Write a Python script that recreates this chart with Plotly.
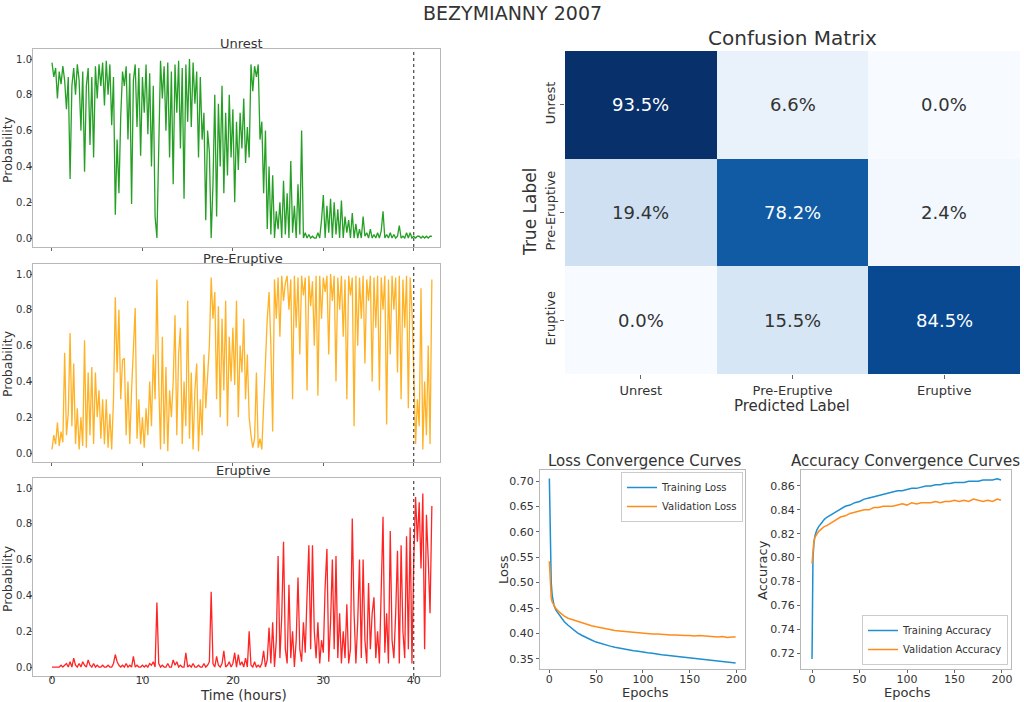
import plotly.graph_objects as go

# time axis of the left panels (hours, one sample every 0.2 h)
hours = [round(i * 0.2, 1) for i in range(211)]

unrest = [
    0.98, 0.90, 0.95, 0.78, 0.93, 0.86, 0.96, 0.88, 0.72, 0.90,
    0.33, 0.85, 0.95, 0.80, 0.97, 0.88, 0.60, 0.93, 0.37, 0.85,
    0.95, 0.52, 0.90, 0.45, 0.96, 0.78, 0.97, 0.85, 0.98, 0.74,
    0.99, 0.80, 0.97, 0.63, 0.90, 0.13, 0.55, 0.25, 0.68, 0.93,
    0.85, 0.96, 0.55, 0.92, 0.19, 0.88, 0.97, 0.62, 0.95, 0.46,
    0.90, 0.70, 0.97, 0.58, 0.92, 0.40, 0.85, 0.12, 0.00, 0.55,
    0.99, 0.78, 0.96, 0.60, 0.98, 0.45, 0.93, 0.30, 0.97, 0.70,
    0.99, 0.50, 0.95, 0.22, 0.97, 0.65, 1.00, 0.62, 0.98, 0.75,
    0.93, 0.45, 0.90, 0.55, 0.70, 0.10, 0.60, 0.48, 0.00, 0.30,
    0.80, 0.12, 0.75, 0.40, 0.85, 0.25, 0.70, 0.35, 0.80, 0.45,
    0.72, 0.20, 0.65, 0.38, 0.70, 0.50, 0.78, 0.42, 0.62, 0.45,
    0.97, 0.82, 0.96, 0.90, 0.97, 0.55, 0.65, 0.25, 0.60, 0.05,
    0.40, 0.02, 0.35, 0.00, 0.15, 0.05, 0.20, 0.00, 0.32, 0.02,
    0.25, 0.00, 0.43, 0.03, 0.18, 0.00, 0.30, 0.02, 0.60, 0.00,
    0.03, 0.00, 0.02, 0.00, 0.01, 0.00, 0.00, 0.03, 0.00, 0.10,
    0.24, 0.00, 0.18, 0.03, 0.22, 0.00, 0.20, 0.02, 0.16, 0.00,
    0.21, 0.00, 0.12, 0.03, 0.10, 0.00, 0.14, 0.00, 0.08, 0.00,
    0.05, 0.00, 0.12, 0.01, 0.03, 0.00, 0.05, 0.00, 0.02, 0.00,
    0.03, 0.00, 0.04, 0.15, 0.00, 0.02, 0.00, 0.03, 0.00, 0.02,
    0.00, 0.01, 0.07, 0.00, 0.01, 0.00, 0.03, 0.00, 0.03, 0.00,
    0.01, 0.00, 0.01, 0.01, 0.00, 0.01, 0.00, 0.01, 0.00, 0.01, 0.01,
]

pre_eruptive = [
    0.02, 0.10, 0.05, 0.17, 0.04, 0.12, 0.06, 0.56, 0.10, 0.22,
    0.67, 0.15, 0.50, 0.05, 0.25, 0.02, 0.20, 0.04, 0.63, 0.03,
    0.45, 0.10, 0.48, 0.05, 0.45, 0.20, 0.35, 0.08, 0.30, 0.05,
    0.30, 0.03, 0.22, 0.02, 0.30, 0.87, 0.45, 0.80, 0.30, 0.52,
    0.53, 0.10, 0.40, 0.05, 0.35, 0.55, 0.81, 0.08, 0.30, 0.05,
    0.20, 0.03, 0.25, 0.10, 0.40, 0.15, 0.55, 0.30, 0.97, 0.40,
    0.02, 0.65, 0.05, 0.48, 0.01, 0.35, 0.20, 0.40, 0.77, 0.10,
    0.55, 0.70, 0.05, 0.40, 0.15, 0.85, 0.08, 0.45, 0.02, 0.35,
    0.50, 0.01, 0.30, 0.10, 0.55, 0.25, 0.40, 0.60, 0.98, 0.75,
    0.90, 0.30, 0.82, 0.20, 0.75, 0.35, 0.85, 0.15, 0.65, 0.40,
    0.70, 0.38, 0.85, 0.20, 0.60, 0.45, 0.75, 0.30, 0.55, 0.20,
    0.10, 0.03, 0.08, 0.45, 0.03, 0.08, 0.02, 0.30, 0.55, 0.75,
    0.90, 0.60, 0.12, 0.97, 0.75, 0.98, 0.65, 0.99, 0.85, 0.95,
    0.99, 0.80, 0.97, 0.30, 0.99, 0.70, 0.98, 0.55, 0.99, 0.88,
    0.98, 0.35, 0.99, 0.82, 0.96, 0.60, 0.99, 0.32, 0.99, 0.75,
    0.98, 0.90, 0.99, 0.55, 1.00, 0.85, 0.99, 0.40, 0.98, 0.80,
    0.99, 0.65, 0.97, 0.30, 0.99, 0.88, 0.98, 0.15, 0.99, 0.60,
    0.98, 0.75, 0.99, 0.50, 0.97, 0.85, 0.99, 0.40, 0.98, 0.70,
    0.99, 0.35, 0.98, 0.80, 0.99, 0.16, 0.97, 0.55, 0.99, 0.80,
    0.98, 0.45, 0.99, 0.30, 0.97, 0.70, 0.99, 0.25, 0.98, 0.80,
    0.45, 0.05, 0.30, 0.15, 0.92, 0.02, 0.40, 0.10, 0.60, 0.05, 0.97,
]

eruptive = [
    0.00, 0.00, 0.00, 0.00, 0.00, 0.01, 0.00, 0.01, 0.02, 0.00,
    0.03, 0.00, 0.05, 0.01, 0.00, 0.02, 0.00, 0.03, 0.01, 0.00,
    0.04, 0.01, 0.00, 0.02, 0.00, 0.01, 0.00, 0.00, 0.01, 0.00,
    0.00, 0.01, 0.00, 0.00, 0.02, 0.07, 0.03, 0.01, 0.00, 0.01,
    0.00, 0.02, 0.00, 0.01, 0.00, 0.06, 0.00, 0.01, 0.00, 0.00,
    0.01, 0.00, 0.01, 0.00, 0.02, 0.01, 0.03, 0.00, 0.36, 0.02,
    0.00, 0.01, 0.00, 0.00, 0.02, 0.00, 0.00, 0.04, 0.01, 0.03,
    0.00, 0.01, 0.00, 0.00, 0.08, 0.00, 0.01, 0.00, 0.02, 0.00,
    0.00, 0.01, 0.00, 0.00, 0.02, 0.00, 0.01, 0.03, 0.42, 0.02,
    0.00, 0.06, 0.01, 0.00, 0.02, 0.09, 0.00, 0.01, 0.03, 0.00,
    0.02, 0.08, 0.00, 0.07, 0.01, 0.03, 0.00, 0.05, 0.00, 0.20,
    0.01, 0.00, 0.03, 0.00, 0.01, 0.00, 0.02, 0.09, 0.00, 0.04,
    0.22, 0.02, 0.25, 0.00, 0.15, 0.62, 0.05, 0.28, 0.70, 0.10,
    0.02, 0.46, 0.05, 0.20, 0.00, 0.15, 0.50, 0.10, 0.03, 0.25,
    0.08, 0.40, 0.68, 0.10, 0.68, 0.20, 0.05, 0.25, 0.02, 0.15,
    0.08, 0.45, 0.66, 0.03, 0.25, 0.60, 0.10, 0.62, 0.05, 0.30,
    0.02, 0.20, 0.05, 0.35, 0.02, 0.10, 0.83, 0.30, 0.02, 0.25,
    0.60, 0.05, 0.60, 0.15, 0.02, 0.47, 0.10, 0.30, 0.39, 0.05,
    0.20, 0.02, 0.45, 0.84, 0.08, 0.30, 0.02, 0.76, 0.15, 0.05,
    0.30, 0.65, 0.02, 0.68, 0.20, 0.05, 0.73, 0.10, 0.78, 0.02,
    0.60, 0.95, 0.70, 0.92, 0.55, 0.97, 0.10, 0.85, 0.60, 0.30, 0.90,
]

classes = ["Unrest", "Pre-Eruptive", "Eruptive"]
cm_values = [[93.5, 6.6, 0.0],
             [19.4, 78.2, 2.4],
             [0.0, 15.5, 84.5]]

epochs = [0, 1, 2, 3, 5, 7, 10, 13, 16, 20, 25, 30, 35, 40, 45, 50, 55, 60, 65, 70,
          75, 80, 85, 90, 95, 100, 105, 110, 115, 120, 125, 130, 135, 140, 145, 150,
          155, 160, 165, 170, 175, 180, 185, 190, 195, 199]
train_loss = [0.705, 0.560, 0.500, 0.475, 0.455, 0.446, 0.438, 0.430, 0.423, 0.416,
              0.408, 0.401, 0.396, 0.391, 0.387, 0.383, 0.380, 0.377, 0.375, 0.373,
              0.371, 0.369, 0.367, 0.366, 0.365, 0.363, 0.362, 0.361, 0.359, 0.358,
              0.357, 0.356, 0.355, 0.354, 0.353, 0.352, 0.351, 0.350, 0.349, 0.348,
              0.347, 0.346, 0.345, 0.344, 0.343, 0.342]
val_loss = [0.542, 0.490, 0.470, 0.462, 0.456, 0.449, 0.443, 0.438, 0.434, 0.430,
            0.427, 0.423, 0.420, 0.417, 0.415, 0.413, 0.411, 0.410, 0.407, 0.406,
            0.405, 0.404, 0.403, 0.402, 0.401, 0.400, 0.400, 0.399, 0.399, 0.398,
            0.398, 0.397, 0.397, 0.396, 0.396, 0.396, 0.395, 0.396, 0.395, 0.394,
            0.394, 0.393, 0.394, 0.392, 0.393, 0.393]
train_acc = [0.715, 0.800, 0.812, 0.818, 0.823, 0.826, 0.829, 0.832, 0.834, 0.836,
             0.838, 0.841, 0.843, 0.844, 0.846, 0.847, 0.849, 0.850, 0.851, 0.852,
             0.853, 0.854, 0.855, 0.856, 0.856, 0.857, 0.858, 0.858, 0.859, 0.860,
             0.860, 0.861, 0.861, 0.862, 0.862, 0.863, 0.863, 0.863, 0.864, 0.864,
             0.864, 0.865, 0.865, 0.865, 0.866, 0.865]
val_acc = [0.795, 0.808, 0.814, 0.817, 0.820, 0.822, 0.824, 0.826, 0.827, 0.829,
           0.832, 0.834, 0.835, 0.837, 0.838, 0.839, 0.840, 0.840, 0.842, 0.842,
           0.843, 0.843, 0.843, 0.844, 0.845, 0.844, 0.846, 0.845, 0.846, 0.846,
           0.846, 0.847, 0.846, 0.847, 0.847, 0.848, 0.847, 0.848, 0.847, 0.849,
           0.848, 0.847, 0.848, 0.847, 0.849, 0.848]

blues = [[0.0, "rgb(247,251,255)"], [0.125, "rgb(222,235,247)"], [0.25, "rgb(198,219,239)"],
         [0.375, "rgb(158,202,225)"], [0.5, "rgb(107,174,214)"], [0.625, "rgb(66,146,198)"],
         [0.75, "rgb(33,113,181)"], [0.875, "rgb(8,81,156)"], [1.0, "rgb(8,48,107)"]]

FONT = "DejaVu Sans"
TXT = "#333333"
BLUE = "#1f8fd0"
ORANGE = "#ff8c1a"

W, H = 1024, 702


def px(x):
    return x / W


def py(y):
    return 1 - y / H


def xdom(a, b):
    return [px(a), px(b)]


def ydom(top, bottom):
    return [py(bottom), py(top)]


fig = go.Figure()

# probability time series
for series, color, n in [(unrest, "#009000", ""), (pre_eruptive, "#ffa500", "2"), (eruptive, "#ff0000", "3")]:
    fig.add_trace(go.Scatter(x=hours, y=series, mode="lines", line=dict(color=color, width=1.3),
                             opacity=0.85, showlegend=False, xaxis="x" + n, yaxis="y" + n))

# confusion matrix
fig.add_trace(go.Heatmap(z=cm_values, x=classes, y=classes, colorscale=blues, zmin=0, zmax=93.5,
                         showscale=False, hoverinfo="skip", xaxis="x4", yaxis="y4"))

# convergence curves
fig.add_trace(go.Scatter(x=epochs, y=train_loss, mode="lines", name="Training Loss",
                         line=dict(color=BLUE, width=1.5), xaxis="x5", yaxis="y5", legend="legend"))
fig.add_trace(go.Scatter(x=epochs, y=val_loss, mode="lines", name="Validation Loss",
                         line=dict(color=ORANGE, width=1.5), xaxis="x5", yaxis="y5", legend="legend"))
fig.add_trace(go.Scatter(x=epochs, y=train_acc, mode="lines", name="Training Accuracy",
                         line=dict(color=BLUE, width=1.5), xaxis="x6", yaxis="y6", legend="legend2"))
fig.add_trace(go.Scatter(x=epochs, y=val_acc, mode="lines", name="Validation Accuracy",
                         line=dict(color=ORANGE, width=1.5), xaxis="x6", yaxis="y6", legend="legend2"))

box = dict(showline=True, mirror=True, linecolor="#b8b8b8", linewidth=1, ticks="outside",
           ticklen=3, tickcolor="#666", showgrid=False, zeroline=False, automargin=False,
           tickfont=dict(family=FONT, size=11, color=TXT))
prob_y = dict(box, range=[-0.05, 1.056], dtick=0.2, tickformat=".1f", ticklen=2, ticklabelstandoff=-4,
              tickfont=dict(family=FONT, size=10, color=TXT))

left_x = xdom(33, 440)
hour_ticks = [0, 10, 20, 30, 40]
fig.update_layout(
    xaxis=dict(box, domain=left_x, anchor="y", range=[-2.1, 42.9], tickvals=hour_ticks, showticklabels=False),
    yaxis=dict(prob_y, domain=ydom(49, 247), anchor="x"),
    xaxis2=dict(box, domain=left_x, anchor="y2", range=[-2.1, 42.9], tickvals=hour_ticks, showticklabels=False),
    yaxis2=dict(prob_y, domain=ydom(264, 462), anchor="x2"),
    xaxis3=dict(box, domain=left_x, anchor="y3", range=[-2.1, 42.9], tickvals=hour_ticks, ticklen=2,
                ticklabelstandoff=-8),
    yaxis3=dict(prob_y, domain=ydom(478, 676), anchor="x3"),
    xaxis4=dict(domain=xdom(565, 1020), anchor="y4", ticks="outside", ticklen=4, tickcolor="#666",
                showline=False, automargin=False, tickfont=dict(family=FONT, size=13, color=TXT)),
    yaxis4=dict(domain=ydom(51, 374), anchor="x4", autorange="reversed", ticks="outside", ticklen=4,
                tickcolor="#666", tickangle=-90, showline=False, automargin=False,
                tickfont=dict(family=FONT, size=13, color=TXT)),
    xaxis5=dict(box, domain=xdom(540, 745), anchor="y5", range=[-10, 209], tickvals=[0, 50, 100, 150, 200],
                ticklabelstandoff=-3),
    yaxis5=dict(box, domain=ydom(470, 669), anchor="x5", range=[0.330, 0.7217], dtick=0.05, tickformat=".2f"),
    xaxis6=dict(box, domain=xdom(801, 1011), anchor="y6", range=[-11.6, 209.5], tickvals=[0, 50, 100, 150, 200],
                ticklabelstandoff=-3),
    yaxis6=dict(box, domain=ydom(470, 669), anchor="x6", range=[0.7066, 0.8734], dtick=0.02, tickformat=".2f"),
    legend=dict(x=px(743), y=py(472), xanchor="right", yanchor="top", bordercolor="#cccccc", borderwidth=1,
                bgcolor="rgba(255,255,255,0.9)", font=dict(family=FONT, size=10, color=TXT),
                tracegroupgap=0, itemwidth=30),
    legend2=dict(x=px(1008), y=py(665), xanchor="right", yanchor="bottom", bordercolor="#cccccc", borderwidth=1,
                 bgcolor="rgba(255,255,255,0.9)", font=dict(family=FONT, size=10, color=TXT),
                 tracegroupgap=0, itemwidth=30),
    width=W, height=H, margin=dict(l=0, r=0, t=0, b=0),
    paper_bgcolor="white", plot_bgcolor="white",
    font=dict(family=FONT, color=TXT),
)

# dashed eruption onset line at 40 h
for n in ["", "2", "3"]:
    fig.add_shape(type="line", x0=40, x1=40, y0=0, y1=1, xref="x" + n, yref="y" + n + " domain",
                  line=dict(color="#222", width=1, dash="dot"))

# cell labels of the confusion matrix
for i, row in enumerate(cm_values):
    for j, v in enumerate(row):
        fig.add_annotation(x=classes[j], y=classes[i], xref="x4", yref="y4", text="%.1f%%" % v,
                           showarrow=False, font=dict(family=FONT, size=18,
                                                      color="white" if v > 50 else "#333333"))


def label(text, x, y, size, angle=0):
    fig.add_annotation(text=text, x=px(x), y=py(y), xref="paper", yref="paper", showarrow=False,
                       textangle=angle, font=dict(family=FONT, size=size, color=TXT),
                       xanchor="center", yanchor="middle", borderpad=0)


label("BEZYMIANNY 2007", 512, 13, 19)
label("Unrest", 241, 43, 13)
label("Pre-Eruptive", 243, 258, 13)
label("Eruptive", 243, 471, 13)
for yy in [150, 364, 579]:
    label("Probability", 7, yy, 12.5, -90)
label("Time (hours)", 243, 695, 13.5)
label("Confusion Matrix", 792, 38, 20)
label("True Label", 530, 212, 17, -90)
label("Predicted Label", 792, 406, 15)
label("Loss Convergence Curves", 645, 461, 15)
label("Loss", 503, 570, 13, -90)
label("Epochs", 645, 692, 13)
label("Accuracy Convergence Curves", 905, 461, 15)
label("Accuracy", 762, 570, 13, -90)
label("Epochs", 907, 692, 13)

# the default page adds an 8px body margin; drop it so the figure sits at the corner
fig.write_html("out.html", config={"displayModeBar": False},
               post_script="document.body.style.margin='0';")
